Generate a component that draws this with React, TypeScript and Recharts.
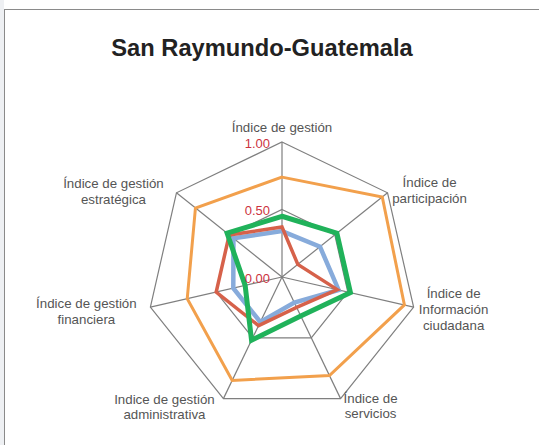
import { RadarChart, Radar, PolarGrid, PolarAngleAxis, PolarRadiusAxis } from 'recharts';

const categories = [
  ['Índice de gestión'],
  ['Índice de', 'participación'],
  ['Índice de', 'Información', 'ciudadana'],
  ['Índice de', 'servicios'],
  ['Indice de gestión', 'administrativa'],
  ['Índice de gestión', 'financiera'],
  ['Índice de gestión', 'estratégica'],
];

const orangeValues = [0.74, 0.95, 0.93, 0.81, 0.85, 0.72, 0.82];
const blueValues = [0.34, 0.36, 0.43, 0.21, 0.37, 0.37, 0.46];
const redValues = [0.37, 0.15, 0.42, 0.25, 0.4, 0.5, 0.5];
const greenValues = [0.45, 0.52, 0.52, 0.32, 0.52, 0.28, 0.52];

const radiusTicks = [0, 0.5, 1];

const data = categories.map((lines, i) => ({
  name: lines.join(' '),
  orange: orangeValues[i],
  blue: blueValues[i],
  red: redValues[i],
  green: greenValues[i],
}));

const CX = 282;
const CY = 277;
const R = 135;

// label block offsets relative to each vertex: [dx of centre, dy of first line]
const labelOffsets = [
  [0, -15],
  [42, -11],
  [40, -14],
  [30, -1],
  [-59, 0],
  [-64, -4],
  [-63, -10],
];

function AngleTick(props: any) {
  const i = props.index;
  const a = ((90 - (i * 360) / 7) * Math.PI) / 180;
  const vx = CX + R * Math.cos(a);
  const vy = CY - R * Math.sin(a);
  const [dx, dy] = labelOffsets[i];
  const lines = categories[i];
  return (
    <text
      x={vx + dx}
      y={vy + dy}
      textAnchor="middle"
      dominantBaseline="central"
      fontSize={13.3}
      fill="#555"
      fontFamily="'Liberation Sans', Arial, sans-serif"
    >
      {lines.map((l, k) => (
        <tspan key={k} x={vx + dx} dy={k === 0 ? 0 : 15.8}>
          {l}
        </tspan>
      ))}
    </text>
  );
}

function RadiusTick(props: any) {
  const { x, y, payload } = props;
  return (
    <text
      x={x - 12}
      y={y + 1}
      textAnchor="end"
      dominantBaseline="central"
      fontSize={13}
      fill="#cc3340"
      fontFamily="'Liberation Sans', Arial, sans-serif"
    >
      {Number(payload.value).toFixed(2)}
    </text>
  );
}

export default function App() {
  return (
    <div style={{ position: 'absolute', left: 0, top: 0, width: 539, height: 445, background: '#fff', overflow: 'hidden' }}>
      <div style={{ position: 'absolute', left: 0, top: 0, width: 4, height: 445, background: '#eef0f3' }} />
      <div
        style={{
          position: 'absolute',
          left: 4,
          top: 9,
          width: 540,
          height: 440,
          borderTop: '1.5px solid #8a8a8a',
          borderLeft: '1.5px solid #8a8a8a',
        }}
      />
      <div
        style={{
          position: 'absolute',
          left: 0,
          top: 35,
          width: 524,
          textAlign: 'center',
          fontFamily: "'Liberation Sans', Arial, sans-serif",
          fontWeight: 'bold',
          fontSize: 23.7,
          color: '#222',
        }}
      >
        San Raymundo-Guatemala
      </div>
      <div style={{ position: 'absolute', left: 0, top: 0 }}>
        <RadarChart width={539} height={445} cx={CX} cy={CY} outerRadius={R} data={data} margin={{ top: 0, right: 0, bottom: 0, left: 0 }}>
          <PolarGrid gridType="polygon" stroke="#7f7f7f" strokeWidth={1.2} />
          <PolarAngleAxis dataKey="name" tick={<AngleTick />} tickLine={false} axisLine={false} />
          <PolarRadiusAxis
            angle={90}
            domain={[0, 1]}
            ticks={radiusTicks as any}
            tickCount={3}
            axisLine={false}
            tick={<RadiusTick />}
          />
          <Radar dataKey="orange" stroke="#f2a04c" strokeWidth={3} fill="none" fillOpacity={0} isAnimationActive={false} />
          <Radar dataKey="blue" stroke="#87abdb" strokeWidth={4.5} fill="none" fillOpacity={0} isAnimationActive={false} />
          <Radar dataKey="red" stroke="#d6614a" strokeWidth={3.5} fill="none" fillOpacity={0} isAnimationActive={false} />
          <Radar dataKey="green" stroke="#20b25a" strokeWidth={5} fill="none" fillOpacity={0} isAnimationActive={false} />
        </RadarChart>
      </div>
    </div>
  );
}
